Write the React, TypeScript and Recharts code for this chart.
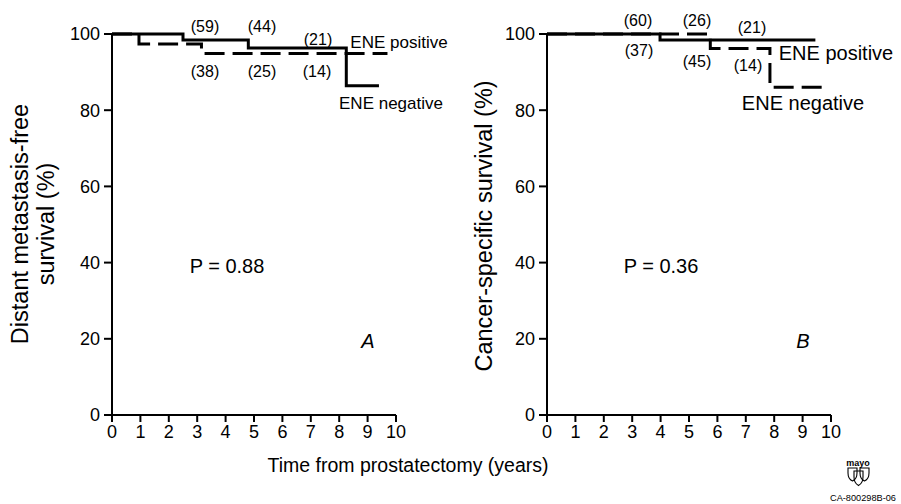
import { LineChart, Line, XAxis, YAxis } from "recharts";

// Panel A: distant metastasis-free survival
const aSolidTimes = [0, 2.5, 4.8, 8.25, 9.4];
const aSolidSurv = [100, 98.4, 96.3, 86.4, 86.4];
const aDashTimes = [0, 0.95, 3.15, 9.7];
const aDashSurv = [100, 97.4, 94.9, 94.9];

// Panel B: cancer-specific survival
const bSolidTimes = [0, 3.98, 9.45];
const bSolidSurv = [100, 98.4, 98.4];
const bDashTimes = [0, 5.75, 7.85, 9.8];
const bDashSurv = [100, 96.2, 86.0, 86.0];

const xTicks = [0, 1, 2, 3, 4, 5, 6, 7, 8, 9, 10];
const yTicks = [0, 20, 40, 60, 80, 100];

const aSolid = aSolidTimes.map((x, i) => ({ x, y: aSolidSurv[i] }));
const aDash = aDashTimes.map((x, i) => ({ x, y: aDashSurv[i] }));
const bSolid = bSolidTimes.map((x, i) => ({ x, y: bSolidSurv[i] }));
const bDash = bDashTimes.map((x, i) => ({ x, y: bDashSurv[i] }));

const FONT = "'Liberation Sans', Arial, Helvetica, sans-serif";
const tick = { fill: "#000", fontSize: 18, fontFamily: FONT };

function Panel({ solid, dash, left, width, marginLeft, marginRight }: any) {
  return (
    <div style={{ position: "absolute", left, top: 0 }}>
      <LineChart
        width={width}
        height={504}
        margin={{ top: 34, right: marginRight, bottom: 59, left: marginLeft }}
      >
        <XAxis
          dataKey="x"
          type="number"
          domain={[0, 10]}
          ticks={xTicks}
          interval={0}
          allowDuplicatedCategory={false}
          stroke="#000"
          strokeWidth={2}
          tickSize={7}
          tickMargin={3}
          tick={tick}
          height={30}
        />
        <YAxis
          type="number"
          domain={[0, 100]}
          ticks={yTicks}
          interval={0}
          stroke="#000"
          strokeWidth={2}
          tickSize={8}
          tickMargin={4}
          tick={tick}
          width={60}
        />
        <Line data={solid} dataKey="y" type="stepAfter" stroke="#000" strokeWidth={3} dot={false} isAnimationActive={false} />
        <Line data={dash} dataKey="y" type="stepAfter" stroke="#000" strokeWidth={3} strokeDasharray="20 8" dot={false} isAnimationActive={false} />
      </LineChart>
    </div>
  );
}

const t = (x: number, y: number, s: string, size = 16, extra: any = {}) => (
  <text x={x} y={y} textAnchor="middle" dominantBaseline="central" fontSize={size} fontFamily={FONT} fill="#000" {...extra}>
    {s}
  </text>
);

export default function App() {
  return (
    <div style={{ position: "absolute", left: 0, top: 0, width: 901, height: 504, background: "#fff", overflow: "hidden" }}>
      <Panel solid={aSolid} dash={aDash} left={0} width={450} marginLeft={52} marginRight={54} />
      <Panel solid={bSolid} dash={bDash} left={450} width={451} marginLeft={37} marginRight={70} />
      <svg width={901} height={504} style={{ position: "absolute", left: 0, top: 0, pointerEvents: "none" }}>
        {/* panel A annotations */}
        {t(205, 26, "(59)")}
        {t(262, 26, "(44)")}
        {t(318, 39, "(21)")}
        {t(205, 71, "(38)")}
        {t(262, 71, "(25)")}
        {t(317, 71, "(14)")}
        {t(399, 42, "ENE positive", 17)}
        {t(391, 103, "ENE negative", 17)}
        {t(227, 266, "P = 0.88", 20)}
        {t(368, 341, "A", 20, { fontStyle: "italic" })}
        {/* panel B annotations */}
        {t(638, 20, "(60)")}
        {t(697, 20, "(26)")}
        {t(752, 27, "(21)")}
        {t(639, 50, "(37)")}
        {t(697, 61, "(45)")}
        {t(748, 65, "(14)")}
        {t(836, 53, "ENE positive", 20)}
        {t(803, 103, "ENE negative", 20)}
        {t(661, 266, "P = 0.36", 20)}
        {t(803, 341, "B", 20, { fontStyle: "italic" })}
        {/* axis titles */}
        {t(408, 465, "Time from prostatectomy (years)", 19.5)}
        <g transform="translate(20,224) rotate(-90)">{t(0, 0, "Distant metastasis-free", 23.5)}</g>
        <g transform="translate(46,224) rotate(-90)">{t(0, 0, "survival (%)", 23.5)}</g>
        <g transform="translate(484,226) rotate(-90)">{t(0, 0, "Cancer-specific survival (%)", 23.5)}</g>
        {/* logo */}
        {t(858, 463, "mayo", 9, { fontWeight: "bold" })}
        <g fill="none" stroke="#000" strokeWidth={1.1}>
          <path d="M848 468 h9 v5 q0 6 -4.5 8 q-4.5 -2 -4.5 -8 z" />
          <path d="M860 468 h9 v5 q0 6 -4.5 8 q-4.5 -2 -4.5 -8 z" />
          <path d="M854 471 h9 v6 q0 6 -4.5 8.5 q-4.5 -2.5 -4.5 -8.5 z" />
        </g>
        {t(863, 498, "CA-800298B-06", 8.6, { textLength: 66, lengthAdjust: "spacingAndGlyphs" })}
      </svg>
    </div>
  );
}
